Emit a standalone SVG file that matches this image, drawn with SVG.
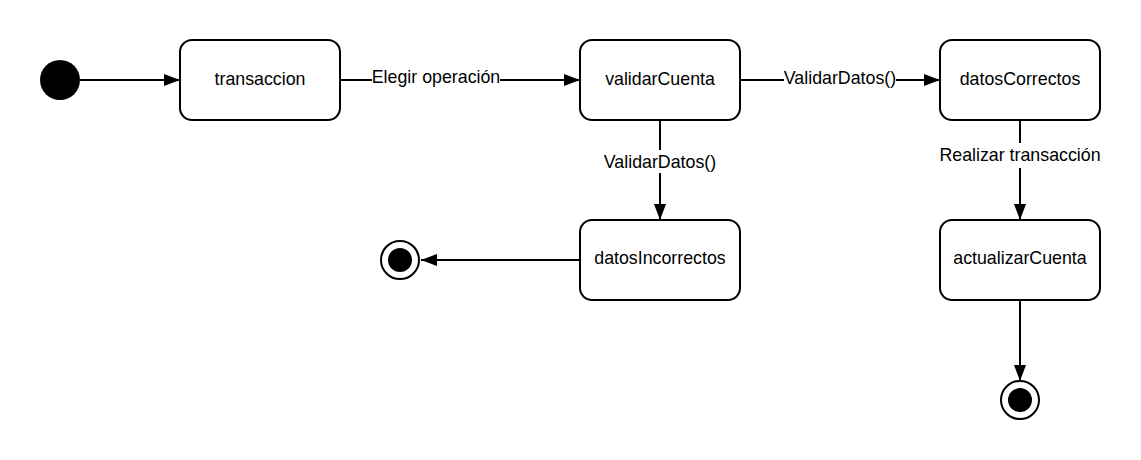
<svg xmlns="http://www.w3.org/2000/svg" width="1141" height="460" viewBox="0 0 1141 460">
<defs>
<style>
.node{fill:#fff;stroke:#000;stroke-width:2}
.t{font-family:"Liberation Sans",Arial,sans-serif;font-size:17.8px;fill:#000;text-anchor:middle}
.edge{stroke:#000;stroke-width:2;fill:none}
.lbg{fill:#fff}
</style>
<marker id="arr" viewBox="0 0 16 12" refX="16" refY="6" markerWidth="16" markerHeight="12" markerUnits="userSpaceOnUse" orient="auto">
<path d="M0,0 L16,6 L0,12 Z" fill="#000"/>
</marker>
</defs>
<rect width="1141" height="460" fill="#fff"/>
<g id="connectors">
<line class="edge" x1="80" y1="80" x2="180" y2="80" marker-end="url(#arr)"/>
<line class="edge" x1="340" y1="80" x2="580" y2="80" marker-end="url(#arr)"/>
<line class="edge" x1="740" y1="80" x2="940" y2="80" marker-end="url(#arr)"/>
<line class="edge" x1="660" y1="120" x2="660" y2="220" marker-end="url(#arr)"/>
<line class="edge" x1="1020" y1="120" x2="1020" y2="220" marker-end="url(#arr)"/>
<line class="edge" x1="580" y1="260" x2="421" y2="260" marker-end="url(#arr)"/>
<line class="edge" x1="1020" y1="300" x2="1020" y2="381" marker-end="url(#arr)"/>
<rect class="lbg" x="372" y="68" width="128" height="20"/>
<text class="t" x="436" y="83">Elegir operación</text>
<rect class="lbg" x="784" y="68" width="112" height="22"/>
<text class="t" x="840" y="84">ValidarDatos()</text>
<rect class="lbg" x="603" y="150" width="114" height="23"/>
<text class="t" x="660" y="168">ValidarDatos()</text>
<rect class="lbg" x="939" y="143" width="162" height="25"/>
<text class="t" x="1020" y="161">Realizar transacción</text>
</g>
<g id="start"><circle cx="60" cy="80" r="20" fill="#000"/></g>
<g id="transaccion"><rect class="node" x="180" y="40" width="160" height="80" rx="12"/><text class="t" x="260" y="85">transaccion</text></g>
<g id="validarCuenta"><rect class="node" x="580" y="40" width="160" height="80" rx="12"/><text class="t" x="660" y="85">validarCuenta</text></g>
<g id="datosCorrectos"><rect class="node" x="940" y="40" width="160" height="80" rx="12"/><text class="t" x="1020" y="85">datosCorrectos</text></g>
<g id="datosIncorrectos"><rect class="node" x="580" y="220" width="160" height="80" rx="12"/><text class="t" x="660" y="264">datosIncorrectos</text></g>
<g id="actualizarCuenta"><rect class="node" x="940" y="220" width="160" height="80" rx="12"/><text class="t" x="1020" y="264">actualizarCuenta</text></g>
<g id="end1"><circle cx="400" cy="260" r="19" fill="#fff" stroke="#000" stroke-width="2"/><circle cx="400" cy="260" r="12" fill="#000"/></g>
<g id="end2"><circle cx="1020" cy="400" r="19" fill="#fff" stroke="#000" stroke-width="2"/><circle cx="1020" cy="400" r="12" fill="#000"/></g>
</svg>
